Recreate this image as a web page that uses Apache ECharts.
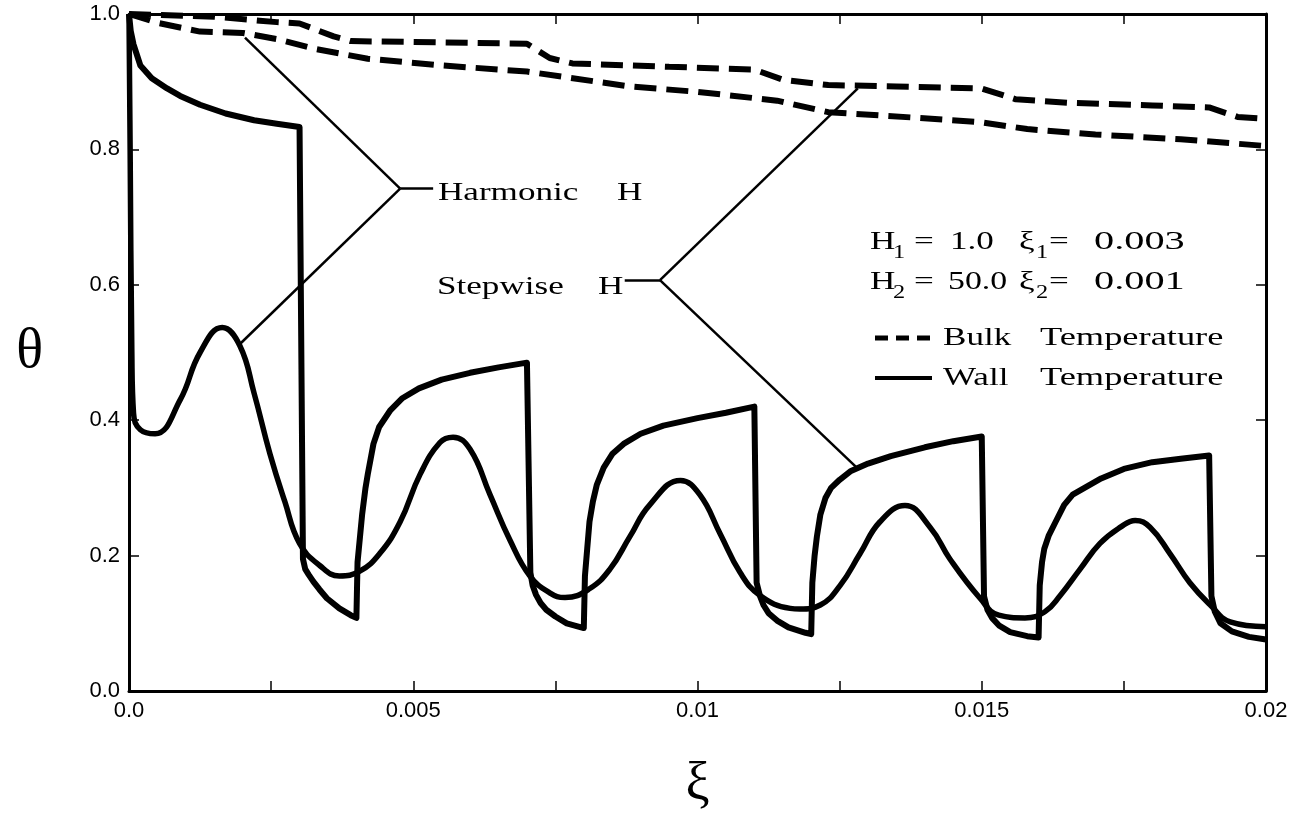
<!DOCTYPE html>
<html>
<head>
<meta charset="utf-8">
<script src="https://cdn.jsdelivr.net/npm/echarts@6/dist/echarts.min.js"></script>
<style>
  html, body { margin: 0; padding: 0; background: #fff; }
  #chart { width: 1298px; height: 818px; }
</style>
</head>
<body>
<div id="chart"></div>
<script>
// axis ticks
var xTickLabels = ["0.0", "", "0.005", "", "0.01", "", "0.015", "", "0.02"];
var yTickLabels = ["0.0", "0.2", "0.4", "0.6", "0.8", "1.0"];

// wall temperature, stepwise H  [xi, theta]
var stepwiseWall = [
  [0, 1.0], [0.00003, 0.975], [0.00008, 0.955], [0.0002, 0.924], [0.0004, 0.905],
  [0.00067, 0.89], [0.0009, 0.879], [0.00125, 0.866], [0.0017, 0.853], [0.0022, 0.843],
  [0.0026, 0.838], [0.003, 0.833],
  [0.00306, 0.195], [0.0031, 0.18], [0.00316, 0.172], [0.00324, 0.162], [0.00335, 0.15],
  [0.00348, 0.137], [0.0037, 0.122], [0.0039, 0.112], [0.004, 0.108],
  [0.00402, 0.19], [0.0041, 0.26], [0.00416, 0.30], [0.0042, 0.32], [0.0043, 0.365],
  [0.0044, 0.39], [0.0046, 0.415], [0.0048, 0.432], [0.0051, 0.447], [0.0055, 0.46],
  [0.006, 0.47], [0.0065, 0.478], [0.007, 0.485],
  [0.00706, 0.175], [0.0071, 0.156], [0.00716, 0.142], [0.00724, 0.13], [0.00734, 0.12],
  [0.0075, 0.11], [0.0077, 0.1], [0.008, 0.093],
  [0.00802, 0.17], [0.00806, 0.21], [0.0081, 0.25], [0.00816, 0.28], [0.00823, 0.305],
  [0.00835, 0.33], [0.0085, 0.35], [0.0087, 0.365], [0.009, 0.38], [0.0094, 0.392],
  [0.01, 0.403], [0.0105, 0.411], [0.011, 0.42],
  [0.01104, 0.16], [0.0111, 0.14], [0.01116, 0.127], [0.01125, 0.115], [0.0114, 0.104],
  [0.0116, 0.094], [0.0119, 0.086], [0.012, 0.084],
  [0.01202, 0.16], [0.01206, 0.2], [0.0121, 0.228], [0.01216, 0.26], [0.01225, 0.285],
  [0.01235, 0.3], [0.0125, 0.312], [0.0127, 0.325], [0.013, 0.336], [0.0134, 0.347],
  [0.014, 0.36], [0.0145, 0.369], [0.015, 0.376],
  [0.01504, 0.14], [0.0151, 0.12], [0.01518, 0.108], [0.0153, 0.097], [0.0155, 0.087],
  [0.0158, 0.081], [0.016, 0.079],
  [0.01602, 0.156], [0.01606, 0.19], [0.0161, 0.21], [0.01618, 0.23], [0.0163, 0.25],
  [0.01645, 0.275], [0.0166, 0.29], [0.0171, 0.314], [0.0175, 0.328], [0.018, 0.338],
  [0.0185, 0.343], [0.019, 0.348],
  [0.01904, 0.14], [0.0191, 0.117], [0.0192, 0.1], [0.0194, 0.088], [0.0197, 0.08],
  [0.02, 0.076]
];

// wall temperature, harmonic H
var harmonicWall = [
  [0, 1.0], [0.00002, 0.8], [0.00005, 0.5], [0.00008, 0.41], [0.0002, 0.386],
  [0.00046, 0.38], [0.0009, 0.43], [0.00125, 0.50], [0.00164, 0.537], [0.00195, 0.51],
  [0.0022, 0.44], [0.00248, 0.35], [0.00274, 0.28], [0.003, 0.218], [0.00336, 0.185],
  [0.0037, 0.17], [0.00406, 0.177], [0.00441, 0.203], [0.00477, 0.25], [0.00512, 0.32],
  [0.00547, 0.367], [0.0057, 0.375], [0.006, 0.357], [0.00635, 0.29], [0.0067, 0.223],
  [0.00705, 0.17], [0.0074, 0.145], [0.00767, 0.138], [0.0081, 0.151], [0.00846, 0.18],
  [0.00881, 0.228], [0.00916, 0.275], [0.0097, 0.311], [0.01004, 0.29], [0.0104, 0.232],
  [0.01075, 0.175], [0.0111, 0.141], [0.01163, 0.122], [0.0118, 0.121], [0.01216, 0.127],
  [0.01251, 0.156], [0.01286, 0.203], [0.01321, 0.25], [0.01365, 0.274], [0.01409, 0.242],
  [0.01444, 0.195], [0.01497, 0.137], [0.0153, 0.112], [0.01576, 0.108], [0.01611, 0.117],
  [0.01638, 0.141], [0.01673, 0.18], [0.01708, 0.218], [0.01744, 0.242], [0.0177, 0.252],
  [0.01796, 0.242], [0.01831, 0.203], [0.01866, 0.16], [0.01902, 0.127], [0.01937, 0.102],
  [0.02, 0.095]
];

// bulk temperature, stepwise H
var stepwiseBulk = [
  [0, 1.0], [0.0015, 0.996], [0.0026, 0.988], [0.003, 0.986], [0.0036, 0.967],
  [0.0039, 0.96], [0.0055, 0.958], [0.007, 0.956], [0.0074, 0.935], [0.0078, 0.927],
  [0.0095, 0.922], [0.011, 0.918], [0.0115, 0.903], [0.0123, 0.895], [0.0135, 0.893],
  [0.015, 0.89], [0.0156, 0.874], [0.0165, 0.869], [0.018, 0.865], [0.019, 0.862],
  [0.0195, 0.848], [0.02, 0.845]
];

// bulk temperature, harmonic H
var harmonicBulk = [
  [0, 1.0], [0.0005, 0.987], [0.00125, 0.974], [0.002, 0.972], [0.0026, 0.963],
  [0.0033, 0.948], [0.0042, 0.934], [0.0055, 0.924], [0.007, 0.915], [0.0088, 0.893],
  [0.01, 0.885], [0.0114, 0.872], [0.0123, 0.855], [0.0138, 0.847], [0.015, 0.84],
  [0.0158, 0.83], [0.017, 0.822], [0.0185, 0.815], [0.02, 0.805]
];

// leader lines of the two labels, in data coordinates
var harmonicLeader = [
  [[0.00477, 0.742], [0.00204, 0.965]],
  [[0.00477, 0.742], [0.00192, 0.51]],
  [[0.00477, 0.742], [0.00535, 0.742]]
];
var stepwiseLeader = [
  [[0.00934, 0.607], [0.01282, 0.89]],
  [[0.00934, 0.607], [0.01282, 0.3285]],
  [[0.00934, 0.607], [0.00872, 0.607]]
];

var serif = "'Liberation Serif', 'DejaVu Serif', serif";
var sans = "'Liberation Sans', Arial, sans-serif";

function texto(left, top, str, size, ancho) {
  return {
    type: "text",
    x: left,
    y: top,
    scaleX: ancho || 1.35,
    style: {
      text: str,
      font: (size || 26) + "px " + serif,
      fill: "#000",
      verticalAlign: "middle",
      align: "left"
    },
    silent: true
  };
}

function tramos(lista) {
  return lista.map(function (p) {
    return [{ coord: p[0] }, { coord: p[1] }];
  });
}

var ejeX = {
  type: "value",
  min: 0,
  max: 0.02,
  interval: 0.0025,
  splitLine: { show: false },
  axisLine: { show: true, onZero: false, lineStyle: { color: "#000", width: 3 } },
  axisTick: { show: true, inside: true, length: 10, lineStyle: { color: "#000", width: 1.5 } }
};
var ejeY = {
  type: "value",
  min: 0,
  max: 1,
  interval: 0.2,
  splitLine: { show: false },
  axisLine: { show: true, onZero: false, lineStyle: { color: "#000", width: 3 } },
  axisTick: { show: true, inside: true, length: 10, lineStyle: { color: "#000", width: 1.5 } }
};

var option = {
  animation: false,
  backgroundColor: "#fff",
  grid: { left: 129, right: 32, top: 14, bottom: 110 },
  xAxis: [
    Object.assign({}, ejeX, {
      position: "bottom",
      name: "ξ",
      nameLocation: "middle",
      nameGap: 68,
      nameTextStyle: { fontFamily: serif, fontSize: 54, color: "#000" },
      axisLabel: {
        color: "#000",
        fontFamily: sans,
        fontSize: 22,
        margin: 9,
        formatter: function (v, i) { return xTickLabels[i]; }
      }
    }),
    Object.assign({}, ejeX, { position: "top", axisLabel: { show: false } })
  ],
  yAxis: [
    Object.assign({}, ejeY, {
      position: "left",
      name: "θ",
      nameLocation: "middle",
      nameRotate: 0,
      nameGap: 86,
      nameTextStyle: { fontFamily: serif, fontSize: 56, color: "#000" },
      axisLabel: {
        color: "#000",
        fontFamily: sans,
        fontSize: 22,
        margin: 9,
        formatter: function (v, i) { return yTickLabels[i]; }
      }
    }),
    Object.assign({}, ejeY, { position: "right", axisLabel: { show: false } })
  ],
  series: [
    {
      name: "Bulk Temperature (stepwise)",
      type: "line",
      data: stepwiseBulk,
      symbol: "none",
      lineStyle: { color: "#000", width: 6, type: [22, 10], cap: "butt" }
    },
    {
      name: "Bulk Temperature (harmonic)",
      type: "line",
      data: harmonicBulk,
      symbol: "none",
      lineStyle: { color: "#000", width: 6, type: [22, 10], cap: "butt" }
    },
    {
      name: "Wall Temperature (harmonic)",
      type: "line",
      data: harmonicWall,
      symbol: "none",
      smooth: 0.45,
      lineStyle: { color: "#000", width: 5.5, join: "round" },
      markLine: {
        silent: true,
        symbol: ["none", "none"],
        label: { show: false },
        lineStyle: { color: "#000", width: 2.5, type: "solid" },
        data: tramos(harmonicLeader)
      }
    },
    {
      name: "Wall Temperature (stepwise)",
      type: "line",
      data: stepwiseWall,
      symbol: "none",
      lineStyle: { color: "#000", width: 6, join: "round" },
      markLine: {
        silent: true,
        symbol: ["none", "none"],
        label: { show: false },
        lineStyle: { color: "#000", width: 2.5, type: "solid" },
        data: tramos(stepwiseLeader)
      }
    }
  ],
  graphic: [
    texto(438, 193, "Harmonic"),
    texto(617, 193, "H"),
    texto(437, 287, "Stepwise"),
    texto(598, 287, "H"),

    texto(870, 242, "H"),
    texto(893, 253, "1", 18),
    texto(914, 242, "="),
    texto(950, 242, "1.0", 26, 1.35),
    texto(1019, 242, "ξ"),
    texto(1036, 253, "1", 18),
    texto(1049, 242, "="),
    texto(1094, 242, "0.003", 26, 1.55),

    texto(870, 282, "H"),
    texto(893, 293, "2", 18),
    texto(914, 282, "="),
    texto(948, 282, "50.0", 26, 1.3),
    texto(1019, 282, "ξ"),
    texto(1036, 293, "2", 18),
    texto(1049, 282, "="),
    texto(1094, 282, "0.001", 26, 1.55),

    {
      type: "line",
      shape: { x1: 875, y1: 338, x2: 932, y2: 338 },
      style: { stroke: "#000", lineWidth: 5, lineDash: [13, 8] },
      silent: true
    },
    texto(943, 338, "Bulk"),
    texto(1040, 338, "Temperature", 26, 1.4),
    {
      type: "line",
      shape: { x1: 875, y1: 378, x2: 932, y2: 378 },
      style: { stroke: "#000", lineWidth: 4 },
      silent: true
    },
    texto(943, 378, "Wall"),
    texto(1040, 378, "Temperature", 26, 1.4)
  ]
};

var dom = document.getElementById("chart");
var myChart = echarts.init(dom, null, { renderer: "canvas" });
myChart.setOption(option);
</script>
</body>
</html>
